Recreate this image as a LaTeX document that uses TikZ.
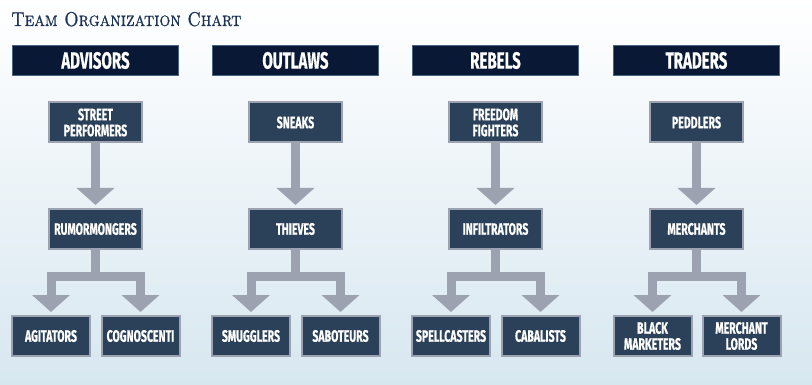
\documentclass[tikz,border=0pt]{standalone}
\usepackage{fontspec}
\newfontfamily\chartfont{Fira Sans}[FakeStretch=0.64,FakeBold=0.6]
\newfontfamily\titlefont{lmromancaps10-regular}[Extension=.otf,FakeStretch=0.86,FakeBold=0.8]
\usepackage{tikz}
\usetikzlibrary{calc,positioning,arrows.meta}
\definecolor{boxblue}{HTML}{2B4159}
\definecolor{hdrblue}{HTML}{081835}
\definecolor{hdrline}{HTML}{4A6383}
\definecolor{arrgray}{HTML}{9DA2B0}
\definecolor{titleblue}{HTML}{1E3358}
\definecolor{bgblue}{HTML}{D7E7F0}

\begin{document}
\begin{tikzpicture}[x=1pt,y=-1pt,
  hdr/.style={fill=hdrblue,draw=hdrline,line width=0.6pt,minimum width=166pt,minimum height=30pt,
    inner sep=0pt,text=white,font=\chartfont\bfseries\fontsize{23.5}{26}\selectfont},
  box/.style={draw=arrgray,line width=2pt,fill=boxblue,text=white,align=center,inner sep=0pt,
    minimum width=93pt,minimum height=40pt,font=\chartfont\bfseries\fontsize{16.5}{16}\selectfont},
  leaf/.style={box,minimum width=78pt},
  down/.style={arrgray,line width=9pt,-{Triangle[width=37pt,length=17pt]},shorten >=3pt},
  fork/.style={down,line join=miter}]
\useasboundingbox (0,0) rectangle (812,385);
% background
\shade[top color=white,middle color=white,bottom color=bgblue] (0,0) rectangle (812,385);
% title
\node[anchor=base west,inner sep=0pt,text=titleblue,font=\titlefont\fontsize{20}{22}\selectfont] (title) at (11,26)
  {Team Organization Chart};

% advisors
\node[hdr] (hAdv) at (95.5,60.5) {ADVISORS};
\node[box] (street) at (95.5,122.5) {STREET\\PERFORMERS};
\node[box] (rumor) at (95.5,229) {RUMORMONGERS};
\node[leaf] (agit) at (51,336) {AGITATORS};
\node[leaf] (cogno) at (140.5,336) {COGNOSCENTI};
\draw[down] (street) -- (rumor);
\draw[fork] (rumor.south) -- ++(0,26.5) -| (agit.north);
\draw[fork] (rumor.south) -- ++(0,26.5) -| (cogno.north);

% outlaws
\node[hdr] (hOut) at (295.5,60.5) {OUTLAWS};
\node[box] (sneaks) at (295.5,122.5) {SNEAKS};
\node[box] (thieves) at (295.5,229) {THIEVES};
\node[leaf] (smug) at (251,336) {SMUGGLERS};
\node[leaf] (sabo) at (340.5,336) {SABOTEURS};
\draw[down] (sneaks) -- (thieves);
\draw[fork] (thieves.south) -- ++(0,26.5) -| (smug.north);
\draw[fork] (thieves.south) -- ++(0,26.5) -| (sabo.north);

% rebels
\node[hdr] (hReb) at (495.5,60.5) {REBELS};
\node[box] (freedom) at (495.5,122.5) {FREEDOM\\FIGHTERS};
\node[box] (infil) at (495.5,229) {INFILTRATORS};
\node[leaf] (spell) at (451,336) {SPELLCASTERS};
\node[leaf] (cabal) at (540.5,336) {CABALISTS};
\draw[down] (freedom) -- (infil);
\draw[fork] (infil.south) -- ++(0,26.5) -| (spell.north);
\draw[fork] (infil.south) -- ++(0,26.5) -| (cabal.north);

% traders
\node[hdr] (hTrad) at (696.5,60.5) {TRADERS};
\node[box] (peddle) at (696.5,122.5) {PEDDLERS};
\node[box] (merch) at (696.5,229) {MERCHANTS};
\node[leaf] (black) at (652.5,336) {BLACK\\MARKETERS};
\node[leaf] (lords) at (741.5,336) {MERCHANT\\LORDS};
\draw[down] (peddle) -- (merch);
\draw[fork] (merch.south) -- ++(0,26.5) -| (black.north);
\draw[fork] (merch.south) -- ++(0,26.5) -| (lords.north);
\end{tikzpicture}
\end{document}
